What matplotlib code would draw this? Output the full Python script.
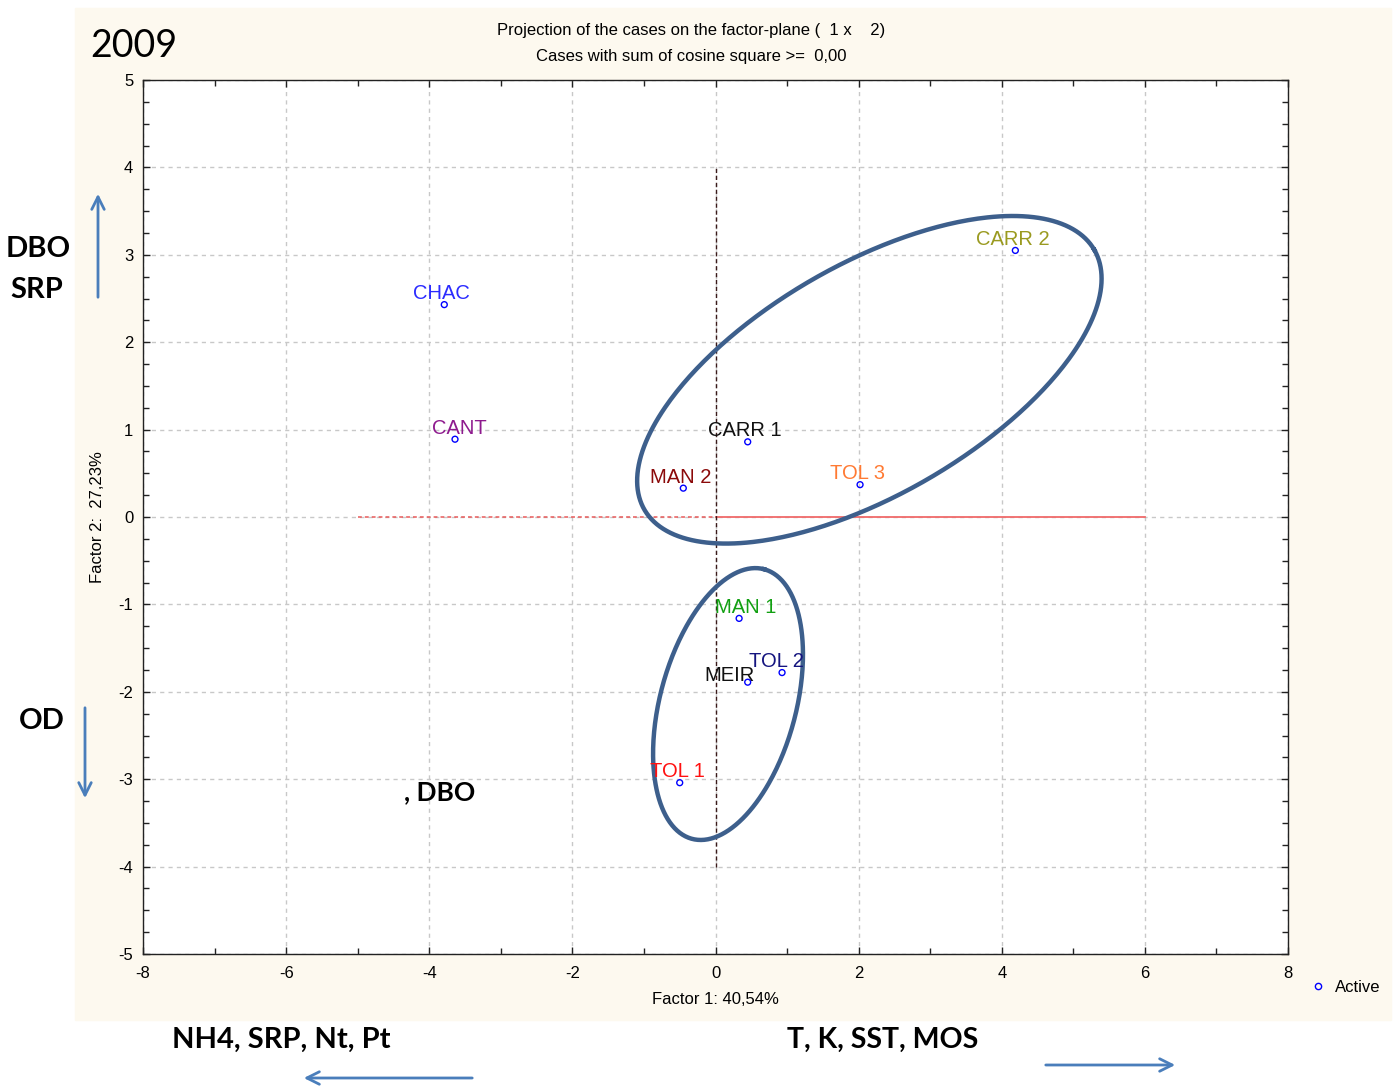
import numpy as np
import matplotlib
matplotlib.use("Agg")
import matplotlib.pyplot as plt
from matplotlib.patches import Rectangle
from matplotlib.lines import Line2D

# sites projected on the factor plane
sites = ["CHAC", "CANT", "CARR 2", "CARR 1", "MAN 2", "TOL 3", "MAN 1", "TOL 2", "MEIR", "TOL 1"]
factor1 = [-3.79, -3.64, 4.19, 0.45, -0.45, 2.02, 0.33, 0.93, 0.45, -0.50]
factor2 = [2.43, 0.89, 3.05, 0.86, 0.33, 0.37, -1.16, -1.78, -1.89, -3.04]
site_colors = ["#2b2bff", "#8e1a8e", "#9a9a20", "#111111", "#8b0a0a",
               "#ff7a33", "#12a012", "#14147f", "#111111", "#ff1010"]

# groups: center (f1, f2), semi axes (in factor-1 units), tilt in degrees
groups = [
    ((2.15, 1.57), 3.63, 1.61, 30.0),
    ((0.175, -2.14), 1.95, 0.95, 75.0),
]

xticks = list(range(-8, 9, 2))
yticks = list(range(-5, 6))

plt.rcParams['font.family'] = ['Liberation Sans', 'DejaVu Sans']
plt.rcParams['axes.unicode_minus'] = False

W, H = 1393, 1088
fig = plt.figure(figsize=(W / 100, H / 100), dpi=100)
fig.patches.append(Rectangle((75 / W, 1 - 1020 / H), (1391 - 75) / W, (1020 - 8) / H,
                             transform=fig.transFigure, color="#fdf9ef", zorder=-10))

pos = [143 / W, 1 - 954 / H, (1288 - 143) / W, (954 - 80) / H]
ax = fig.add_axes(pos)
ax.set_facecolor("white")
ax.set_xlim(-8, 8)
ax.set_ylim(-5, 5)
ax.set_xticks(xticks)
ax.set_yticks(yticks)
ax.set_xticks(range(-7, 8, 2), minor=True)
ax.set_yticks(np.arange(-5, 5.01, 0.25), minor=True)
ax.tick_params(which="both", direction="in", top=True, right=True, width=1, color="#222222")
ax.tick_params(which="major", length=5, labelsize=12)
ax.tick_params(which="minor", length=4)
ax.tick_params(axis="x", pad=9)
ax.tick_params(axis="y", pad=7)
ax.grid(True, which="major", ls=(0, (3, 3)), color="#c8c8c8", lw=1)
ax.set_axisbelow(True)
for s in ax.spines.values():
    s.set_linewidth(1)
    s.set_color("#222222")

# reference lines through origin
ax.plot([-5, 0], [0, 0], color="#e85a5a", lw=1.1, ls=(0, (2.5, 2)))
ax.plot([0, 6], [0, 0], color="#f06a6a", lw=1.3)
ax.plot([0, 0], [-4, 4], color="#3a1a1a", lw=1, ls=(0, (3, 2)))

# scale between y and x pixel units
ratio = (pos[3] * H / 10) / (pos[2] * W / 16)
t = np.linspace(0, 2 * np.pi, 400)
for (cx, cy), a, b, ang in groups:
    th = np.radians(ang)
    ex = cx + a * np.cos(t) * np.cos(th) - b * np.sin(t) * np.sin(th)
    ey = cy + (a * np.cos(t) * np.sin(th) + b * np.sin(t) * np.cos(th)) / ratio
    ax.plot(ex, ey, color="#3d5f8c", lw=3.2, zorder=3)

ax.scatter(factor1, factor2, s=18, facecolors="none", edgecolors="#0000ff", lw=1, zorder=4)

nudge = {"MEIR": (-13, 1), "MAN 1": (5, 4), "CANT": (3, 4), "TOL 2": (-4, 4)}
for name, x, y, c in zip(sites, factor1, factor2, site_colors):
    dx, dy = nudge.get(name, (-2, 4))
    ax.annotate(name, (x, y), xytext=(dx, dy), textcoords="offset points",
                ha="center", va="baseline", fontsize=14.5, color=c, zorder=5)

# titles and axis captions
fig.text(691 / W, 1 - 30 / H, "Projection of the cases on the factor-plane (  1 x    2)",
         ha="center", va="center", fontsize=12)
fig.text(691 / W, 1 - 56 / H, "Cases with sum of cosine square >=  0,00",
         ha="center", va="center", fontsize=12)
fig.text(715 / W, 1 - 1000 / H, "Factor 1: 40,54%", ha="center", va="center", fontsize=12)
fig.text(97 / W, 1 - 517 / H, "Factor 2:  27,23%", ha="center", va="center",
         rotation=90, fontsize=12)

fig.legend([Line2D([], [], ls="none", marker="o", ms=4.5, mfc="none", mec="#0000ff")],
           ["Active"], loc="center left", bbox_to_anchor=(1295 / W, 1 - 987 / H),
           frameon=False, fontsize=12, handlelength=1, handletextpad=0.5)

# variable annotations around the plot
big = dict(family=["Lato", "DejaVu Sans"], color="black")
fig.text(90 / W, 1 - 46 / H, "2009", ha="left", va="center", fontsize=27, **big)
fig.text(38 / W, 1 - 249 / H, "DBO", ha="center", va="center", fontsize=21, weight="bold", **big)
fig.text(37 / W, 1 - 290 / H, "SRP", ha="center", va="center", fontsize=21, weight="bold", **big)
fig.text(42 / W, 1 - 721 / H, "OD", ha="center", va="center", fontsize=21, weight="bold", **big)
fig.text(440 / W, 1 - 792 / H, ", DBO", ha="center", va="center", fontsize=19, weight="bold", **big)
fig.text(281 / W, 1 - 1040 / H, "NH4, SRP, Nt, Pt", ha="center", va="center", fontsize=21,
         weight="bold", **big)
fig.text(883 / W, 1 - 1040 / H, "T, K, SST, MOS", ha="center", va="center", fontsize=20.5,
         weight="bold", **big)

arrow = dict(arrowstyle="->,head_length=0.9,head_width=0.45", color="#4a7ebb", lw=2)
for start, end in [((98, 300), (98, 191)), ((85, 705), (85, 801)),
                   ((475, 1078), (301, 1078)), ((1043, 1065), (1178, 1065))]:
    fig.add_artist(matplotlib.text.Annotation(
        "", xy=(end[0] / W, 1 - end[1] / H), xytext=(start[0] / W, 1 - start[1] / H),
        xycoords="figure fraction", textcoords="figure fraction", arrowprops=arrow))

fig.savefig("out.png", dpi=100, facecolor="white")
